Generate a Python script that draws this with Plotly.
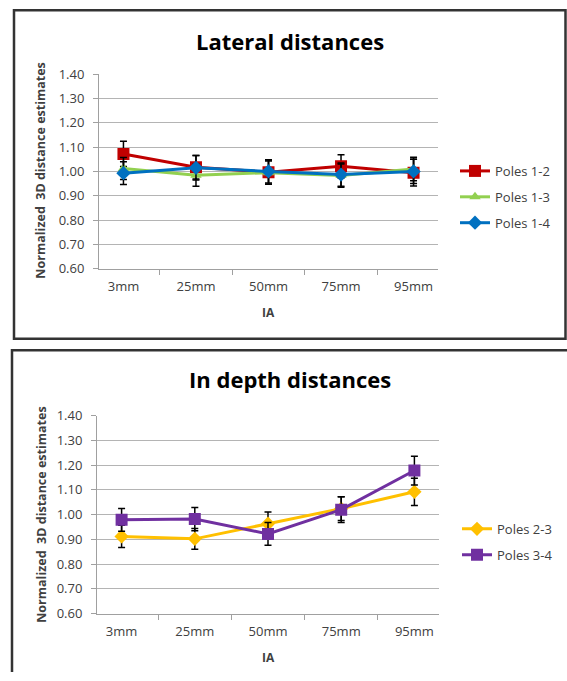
import plotly.graph_objects as go

W, H = 567, 681

categories = ["3mm", "25mm", "50mm", "75mm", "95mm"]

# Lateral distances
poles_1_2 = [1.072, 1.017, 0.997, 1.021, 0.995]
poles_1_2_err = [0.052, 0.048, 0.050, 0.048, 0.055]
poles_1_3 = [1.012, 0.984, 0.995, 0.983, 1.010]
poles_1_3_err = [0.045, 0.045, 0.048, 0.048, 0.048]
poles_1_4 = [0.993, 1.015, 1.000, 0.987, 1.000]
poles_1_4_err = [0.047, 0.050, 0.048, 0.048, 0.050]

# In depth distances
poles_2_3 = [0.912, 0.902, 0.963, 1.024, 1.092]
poles_2_3_err = [0.045, 0.042, 0.047, 0.048, 0.055]
poles_3_4 = [0.979, 0.982, 0.922, 1.020, 1.178]
poles_3_4_err = [0.046, 0.047, 0.046, 0.052, 0.058]

y_ticks = [0.6, 0.7, 0.8, 0.9, 1.0, 1.1, 1.2, 1.3, 1.4]
y_ticktext = ["0.60", "0.70", "0.80", "0.90", "1.00", "1.10", "1.20", "1.30", "1.40"]

FONT = "Open Sans"
TXT = "#404040"

# observed vertical placement of the page in the photograph
V_OFF, V_SC = 8.0, 0.9758


def px_x(p):
    return p / W


def px_y(p):
    return 1 - ((p - V_OFF) / V_SC) / H


fig = go.Figure()


def add_series(name, vals, errs, color, symbol, size, xa, ya, legend):
    fig.add_trace(go.Scatter(
        x=categories, y=vals, name=name, mode="lines+markers",
        line=dict(color=color, width=3),
        marker=dict(color=color, symbol=symbol, size=size),
        error_y=dict(type="data", array=errs, visible=True, color="black",
                     thickness=1.5, width=3.5),
        xaxis=xa, yaxis=ya, legend=legend, legendgroup=name,
    ))


add_series("Poles 1-2", poles_1_2, poles_1_2_err, "#C00000", "square", 12, "x", "y", "legend")
add_series("Poles 1-3", poles_1_3, poles_1_3_err, "#92D050", "triangle-up", 10, "x", "y", "legend")
add_series("Poles 1-4", poles_1_4, poles_1_4_err, "#0070C0", "diamond", 11, "x", "y", "legend")
add_series("Poles 2-3", poles_2_3, poles_2_3_err, "#FFC000", "diamond", 11, "x2", "y2", "legend2")
add_series("Poles 3-4", poles_3_4, poles_3_4_err, "#7030A0", "square", 12, "x2", "y2", "legend2")

xaxis_common = dict(
    type="category", tickson="boundaries", ticks="outside", ticklen=5,
    tickcolor="#a0a0a0", showline=True, linecolor="#a0a0a0", linewidth=1,
    showgrid=False, zeroline=False, tickfont=dict(family=FONT, size=13, color=TXT),
    ticklabelstandoff=6, fixedrange=True,
)
yaxis_common = dict(
    range=[0.6, 1.4], tickvals=y_ticks, ticktext=y_ticktext, ticks="outside",
    ticklen=5, tickcolor="#a0a0a0", showline=True, linecolor="#a0a0a0",
    linewidth=1, showgrid=True, gridcolor="#b4b4b4", gridwidth=1,
    zeroline=False, tickfont=dict(family=FONT, size=13, color=TXT),
    ticklabelstandoff=6, fixedrange=True,
)

fig.update_layout(
    width=W, height=H, autosize=False,
    margin=dict(l=0, r=0, t=0, b=0),
    paper_bgcolor="white", plot_bgcolor="white",
    xaxis=dict(domain=[px_x(99), px_x(438)], anchor="y", **xaxis_common),
    yaxis=dict(domain=[px_y(268.3), px_y(73.3)], anchor="x", **yaxis_common),
    xaxis2=dict(domain=[px_x(97), px_x(439)], anchor="y2", **xaxis_common),
    yaxis2=dict(domain=[px_y(614), px_y(415.5)], anchor="x2", **yaxis_common),
    legend=dict(x=px_x(455), y=px_y(155.3), xanchor="left", yanchor="top",
                font=dict(family=FONT, size=13, color=TXT),
                bgcolor="rgba(0,0,0,0)", tracegroupgap=6),
    legend2=dict(x=px_x(457), y=px_y(514), xanchor="left", yanchor="top",
                 font=dict(family=FONT, size=13, color=TXT),
                 bgcolor="rgba(0,0,0,0)", tracegroupgap=6),
    showlegend=True,
)

# panel borders (kept inside the page)
fig.add_shape(type="rect", xref="paper", yref="paper",
              x0=px_x(14), x1=px_x(565.5), y0=px_y(338.5), y1=px_y(9.3),
              line=dict(color="#333333", width=2.5), layer="below")
bx, by = px_x(12), px_y(350)
fig.add_shape(type="path", xref="paper", yref="paper",
              path=f"M {bx},0 L {bx},{by} L 1,{by}",
              line=dict(color="#333333", width=2.5), layer="below")

annotations = [
    dict(text="<b>Lateral distances</b>", x=px_x(290), y=px_y(40),
         font=dict(family=FONT, size=22, color="black")),
    dict(text="<b>In depth distances</b>", x=px_x(290), y=px_y(379),
         font=dict(family=FONT, size=22, color="black")),
    dict(text="<b>IA</b>", x=px_x(268.5), y=px_y(312),
         font=dict(family=FONT, size=12, color=TXT)),
    dict(text="<b>IA</b>", x=px_x(268), y=px_y(658),
         font=dict(family=FONT, size=12, color=TXT)),
    dict(text="<b>Normalized  3D distance estimates</b>", x=px_x(41), y=px_y(170),
         textangle=-90, font=dict(family=FONT, size=12.5, color=TXT)),
    dict(text="<b>Normalized  3D distance estimates</b>", x=px_x(42), y=px_y(515),
         textangle=-90, font=dict(family=FONT, size=12.5, color=TXT)),
]
for a in annotations:
    a.update(xref="paper", yref="paper", showarrow=False,
             xanchor="center", yanchor="middle")
fig.update_layout(annotations=annotations)

post = (
    "document.documentElement.style.margin='0';"
    "document.documentElement.style.padding='0';"
    "document.documentElement.style.overflow='hidden';"
    "document.body.style.margin='0';"
    "document.body.style.padding='0';"
    "document.body.style.overflow='hidden';"
    "var gd=document.getElementById('{plot_id}');"
    "gd.style.position='absolute';gd.style.top='0px';gd.style.left='0px';"
)

fig.write_html(
    "out.html",
    config={"displayModeBar": False},
    post_script=post,
)
